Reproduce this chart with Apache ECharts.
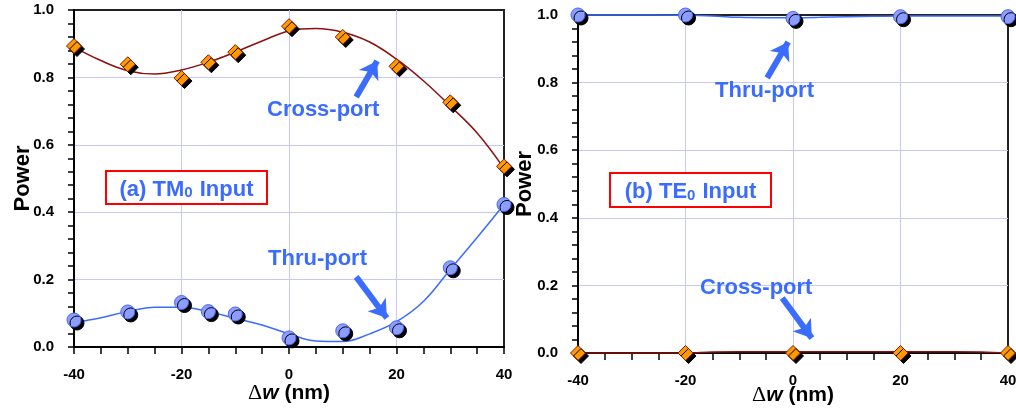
<!DOCTYPE html>
<html>
<head>
<meta charset="utf-8">
<script src="https://cdn.jsdelivr.net/npm/echarts@6/dist/echarts.min.js"></script>
<style>html,body{margin:0;padding:0;background:#fff}#c{width:1016px;height:412px}</style>
</head>
<body>
<div id="c"></div>
<script>
// ---- data ----
const xTicks = ['-40', '-20', '0', '20', '40'];
const yTicks = ['0.0', '0.2', '0.4', '0.6', '0.8', '1.0'];

// (a) TM0 input : measured points
const tmX = [-40, -30, -20, -15, -10, 0, 10, 20, 30, 40];
const tmCross = [0.893, 0.839, 0.798, 0.845, 0.875, 0.952, 0.920, 0.833, 0.726, 0.536];
const tmThru = [0.080, 0.104, 0.132, 0.105, 0.098, 0.027, 0.048, 0.057, 0.235, 0.423];
// (a) fitted curves
const tmFitX = [-40, -35, -30, -25, -20, -15, -10, -5, 0, 5, 10, 15, 20, 25, 30, 35, 40];
const tmCrossFit = [0.890, 0.850, 0.820, 0.810, 0.822, 0.845, 0.875, 0.908, 0.938, 0.945, 0.934, 0.905, 0.854, 0.790, 0.715, 0.635, 0.530];
const tmThruFit = [0.072, 0.087, 0.105, 0.118, 0.118, 0.105, 0.085, 0.065, 0.039, 0.018, 0.016, 0.039, 0.075, 0.135, 0.230, 0.325, 0.423];

// (b) TE0 input : measured points
const teX = [-40, -20, 0, 20, 40];
const teThru = [1.000, 1.000, 0.990, 0.995, 0.995];
const teCross = [0.000, 0.000, 0.000, 0.000, 0.000];
// (b) fitted curves
const teFitX = [-40, -30, -20, -15, -10, -5, 0, 5, 10, 15, 20, 25, 30, 35, 40];
const teThruFit = [1.000, 1.000, 0.999, 0.997, 0.993, 0.992, 0.992, 0.993, 0.995, 0.996, 0.997, 0.997, 0.997, 0.997, 0.997];
const teCrossFit = [0.000, 0.000, 0.000, 0.003, 0.004, 0.004, 0.004, 0.004, 0.004, 0.004, 0.004, 0.004, 0.004, 0.003, 0.000];

// annotation arrows (data coordinates)
const arrowTmCross = [[12.5, 0.742], [16.4, 0.849]];
const arrowTmThru = [[12.5, 0.208], [18.2, 0.086]];
const arrowTeThru = [[-4.8, 0.814], [-0.9, 0.92]];
const arrowTeCross = [[-2.0, 0.163], [3.5, 0.044]];

// ---- styles ----
const FONT = '"Liberation Sans", Arial, sans-serif';
const BLUE = '#3a6cff';
const pairs = (xs, ys) => xs.map((x, i) => [x, ys[i]]);

function xAxis(gi, gap) {
  return {
    type: 'value', gridIndex: gi, min: -40, max: 40, interval: 20,
    axisLine: {show: true, onZero: false, lineStyle: {color: '#000', width: 2}},
    axisTick: {show: true, inside: false, length: 7, lineStyle: {color: '#000', width: 1.5}},
    minorTick: {show: true, splitNumber: 4, length: 7, lineStyle: {color: '#000', width: 1.5}},
    splitLine: {show: true, showMinLine: false, showMaxLine: false, lineStyle: {color: '#c8c8f8', width: 1}},
    axisLabel: {margin: 20, color: '#000', fontFamily: FONT, fontWeight: 'bold', fontSize: 15,
      formatter: v => xTicks[Math.round((v + 40) / 20)]},
    name: '{d|Δ}{w|w}{n| (nm)}', nameLocation: 'middle', nameGap: gap, nameMoveOverlap: false,
    nameTextStyle: {rich: {
      d: {fontFamily: '"Liberation Serif", serif', fontSize: 22, color: '#000'},
      w: {fontFamily: FONT, fontWeight: 'bold', fontStyle: 'italic', fontSize: 21, color: '#000'},
      n: {fontFamily: FONT, fontWeight: 'bold', fontSize: 21, color: '#000'}
    }}
  };
}
function yAxis(gi, gap) {
  return {
    type: 'value', gridIndex: gi, min: 0, max: 1, interval: 0.2,
    axisLine: {show: true, onZero: false, lineStyle: {color: '#000', width: 2}},
    axisTick: {show: true, inside: false, length: 6, lineStyle: {color: '#000', width: 1.5}},
    minorTick: {show: true, splitNumber: 5, length: 6, lineStyle: {color: '#000', width: 1.5}},
    splitLine: {show: true, showMinLine: false, showMaxLine: false, lineStyle: {color: '#c8c8f8', width: 1}},
    axisLabel: {margin: 20, color: '#000', fontFamily: FONT, fontWeight: 'bold', fontSize: 15,
      formatter: v => yTicks[Math.round(v * 5)]},
    name: 'Power', nameLocation: 'middle', nameGap: gap, nameRotate: 90, nameMoveOverlap: false,
    nameTextStyle: {fontFamily: FONT, fontWeight: 'bold', fontSize: 22, color: '#000'}
  };
}
function fitLine(gi, xs, ys, color) {
  return {type: 'line', xAxisIndex: gi, yAxisIndex: gi, data: pairs(xs, ys), smooth: 0.4,
    showSymbol: false, symbol: 'none', clip: false, silent: true, z: 2,
    lineStyle: {color: color, width: 1.5}};
}
function diamonds(gi, xs, ys) {
  return {type: 'scatter', xAxisIndex: gi, yAxisIndex: gi, data: pairs(xs, ys), symbol: 'diamond',
    symbolSize: 15, clip: false, silent: true, z: 4,
    itemStyle: {color: '#ff9900', borderColor: '#8b1a00', borderWidth: 1,
      shadowColor: '#000', shadowOffsetX: 3, shadowOffsetY: 3, shadowBlur: 0, opacity: 1}};
}
function circles(gi, xs, ys) {
  return {type: 'scatter', xAxisIndex: gi, yAxisIndex: gi, data: pairs(xs, ys), symbol: 'circle',
    symbolSize: 14, clip: false, silent: true, z: 4,
    itemStyle: {color: '#8c9cff', borderColor: '#4a68f0', borderWidth: 1,
      shadowColor: '#000', shadowOffsetX: 3, shadowOffsetY: 3, shadowBlur: 0, opacity: 1}};
}
function arrows(gi, list) {
  return {type: 'line', xAxisIndex: gi, yAxisIndex: gi, data: [], silent: true, z: 5,
    markLine: {silent: true, animation: false, symbol: ['none', 'arrow'], symbolSize: [17, 17],
      label: {show: false}, lineStyle: {color: BLUE, width: 6, type: 'solid'},
      emphasis: {disabled: true},
      data: list.map(a => [{coord: a[0]}, {coord: a[1]}])}};
}
const txt = (x, y, s) => ({type: 'text', z: 10, style: {text: s, x: x, y: y,
  font: 'bold 22px ' + FONT, fill: BLUE, align: 'left', verticalAlign: 'middle'}});
function box(x, y, w, h, main, sub, rest) {
  return [
    {type: 'rect', z: 9, shape: {x: x, y: y, width: w, height: h},
      style: {fill: '#fff', stroke: '#ff0000', lineWidth: 2}},
    {type: 'text', z: 10, style: {x: x + w / 2, y: y + h / 2 + 1, align: 'center', verticalAlign: 'middle',
      text: '{m|' + main + '}{s|' + sub + '}{m|' + rest + '}',
      rich: {
        m: {font: 'bold 22px ' + FONT, fill: BLUE, lineHeight: 24, verticalAlign: 'bottom'},
        s: {font: 'bold 15px ' + FONT, fill: BLUE, lineHeight: 15, verticalAlign: 'bottom', padding: [0, 1, 0, 0]}
      }}}
  ];
}

const chart = echarts.init(document.getElementById('c'), null, {renderer: 'canvas'});
chart.setOption({
  animation: false,
  backgroundColor: '#fff',
  grid: [
    {left: 74, top: 10, width: 430, height: 337, show: true, borderColor: '#222', borderWidth: 2,
      backgroundColor: 'transparent', containLabel: false, outerBoundsMode: 'none'},
    {left: 578, top: 15, width: 430, height: 338, show: true, borderColor: '#222', borderWidth: 2,
      backgroundColor: 'transparent', containLabel: false, outerBoundsMode: 'none'}
  ],
  xAxis: [xAxis(0, 35), xAxis(1, 31)],
  yAxis: [yAxis(0, 40), yAxis(1, 42)],
  series: [
    fitLine(0, tmFitX, tmCrossFit, '#8b1010'),
    fitLine(0, tmFitX, tmThruFit, '#3a6cff'),
    diamonds(0, tmX, tmCross),
    circles(0, tmX, tmThru),
    fitLine(1, teFitX, teThruFit, '#3a6cff'),
    fitLine(1, teFitX, teCrossFit, '#8b1010'),
    diamonds(1, teX, teCross),
    circles(1, teX, teThru),
    arrows(0, [arrowTmCross, arrowTmThru]),
    arrows(1, [arrowTeThru, arrowTeCross])
  ],
  graphic: [
    txt(267, 110, 'Cross-port'),
    txt(268, 259, 'Thru-port'),
    txt(715, 91, 'Thru-port'),
    txt(700, 288, 'Cross-port'),
    ...box(106, 171, 161, 33, '(a) TM', '0', ' Input'),
    ...box(610, 173, 161, 34, '(b) TE', '0', ' Input')
  ]
});
</script>
</body>
</html>
